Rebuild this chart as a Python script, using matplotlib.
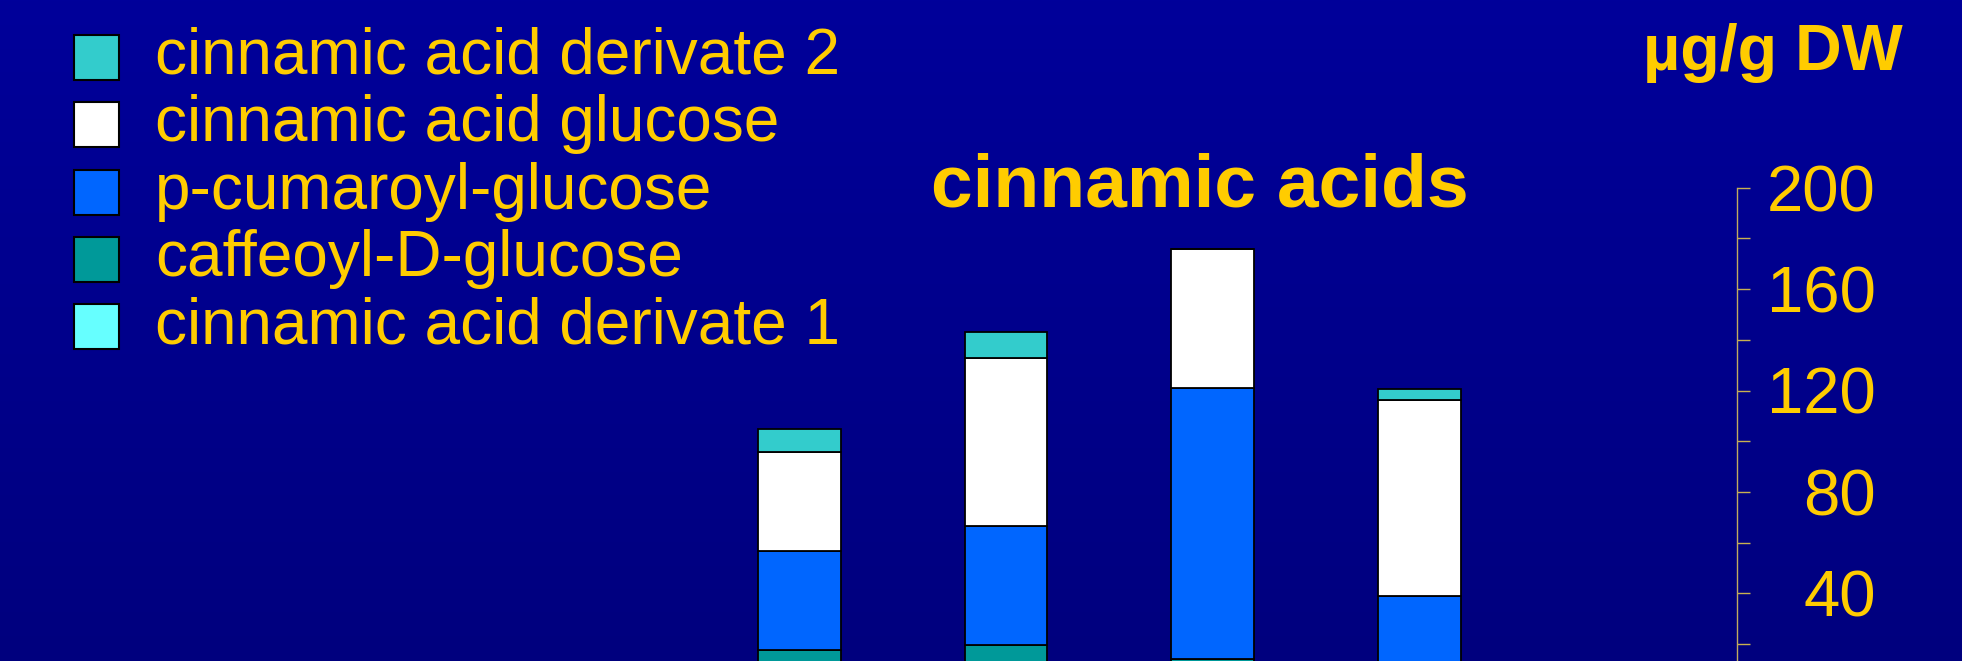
import numpy as np
import matplotlib
matplotlib.use("Agg")
import matplotlib.pyplot as plt
from matplotlib.patches import Rectangle
from matplotlib.ticker import MultipleLocator

# ---- data (µg/g DW), stacked bottom -> top ----
categories = ["1", "2", "3", "4"]
deriv1 = [6.0, 6.0, 4.0, 3.0]          # cinnamic acid derivate 1
caffeoyl = [11.6, 13.6, 10.0, 8.0]     # caffeoyl-D-glucose
pcumaroyl = [39.1, 47.1, 106.9, 28.1]  # p-cumaroyl-glucose
glucose = [38.9, 66.2, 54.8, 77.2]     # cinnamic acid glucose
deriv2 = [9.1, 10.2, 0.0, 4.4]         # cinnamic acid derivate 2

series_names = ["cinnamic acid derivate 1", "caffeoyl-D-glucose",
                "p-cumaroyl-glucose", "cinnamic acid glucose",
                "cinnamic acid derivate 2"]
series_values = [deriv1, caffeoyl, pcumaroyl, glucose, deriv2]
series_colors = ["#66FFFF", "#009999", "#0066FF", "#FFFFFF", "#33CCCC"]

y_ticks = [0, 40, 80, 120, 160, 200]
y_ticklabels = ["", "40", "80", "120", "160", "200"]  # "0" falls outside the picture
title = "cinnamic acids"
unit = "µg/g DW"

YELLOW = "#FFCC00"
W, H = 1962, 661
plt.rcParams["font.family"] = ["Liberation Sans", "DejaVu Sans"]

fig = plt.figure(figsize=(W / 100, H / 100), dpi=100)

# background gradient
bg = fig.add_axes([0, 0, 1, 1], zorder=-10)
grad = np.linspace(0, 1, 256).reshape(-1, 1)
top = np.array([0x00, 0x00, 0x9A]) / 255
bot = np.array([0x00, 0x00, 0x7E]) / 255
img = top[None, None, :] * (1 - grad[:, :, None]) + bot[None, None, :] * grad[:, :, None]
bg.imshow(img, aspect="auto", extent=[0, 1, 0, 1])
bg.axis("off")

# main axes (its bottom lies below the visible figure)
px_left, px_right = 0, 1737.3
px_top, px_zero = 187.7, 694.7
ax = fig.add_axes([px_left / W, (H - px_zero) / H,
                   (px_right - px_left) / W, (px_zero - px_top) / H])
ax.patch.set_alpha(0)

x = np.arange(len(categories))
bottom = np.zeros(len(categories))
for vals, col in zip(series_values, series_colors):
    ax.bar(x, vals, width=0.4, bottom=bottom, color=col,
           edgecolor="black", linewidth=1.3, zorder=3)
    bottom += np.array(vals)

spacing = 206.6
ax.set_xlim(-799.5 / spacing, 3 + (px_right - 1419.4) / spacing)
ax.set_ylim(0, 200)
for s in ("left", "top", "bottom"):
    ax.spines[s].set_visible(False)
ax.spines["right"].set_color("#C0AC60")
ax.spines["right"].set_linewidth(1.0)
ax.set_xticks([])
ax.yaxis.tick_right()
ax.set_yticks(y_ticks)
ax.set_yticklabels(y_ticklabels)
ax.yaxis.set_minor_locator(MultipleLocator(20))
ax.tick_params(axis="y", which="both", direction="out", length=9.1,
               width=1.0, color="#C8B050")
ax.tick_params(axis="y", which="major", labelsize=47, labelcolor=YELLOW, pad=90.5)
for lab in ax.get_yticklabels():
    lab.set_horizontalalignment("right")

# title and unit
fig.text(1200 / W, 1 - 207 / H, title, ha="center", va="baseline",
         fontsize=54, fontweight="bold", color=YELLOW)
fig.text(1643 / W, 1 - 70 / H, unit, ha="left", va="baseline",
         fontsize=46.5, fontweight="bold", color=YELLOW)

# legend (top entry = top of stack)
leg_names = series_names[::-1]
leg_colors = series_colors[::-1]
for i, (name, col) in enumerate(zip(leg_names, leg_colors)):
    ptop = 35 + 67.3 * i
    fig.patches.append(Rectangle((73.5 / W, 1 - (ptop + 45) / H), 45 / W, 45 / H,
                                 transform=fig.transFigure, facecolor=col,
                                 edgecolor="black", linewidth=1.5))
    fig.text(155 / W, 1 - (74 + 67.3 * i) / H, name, ha="left", va="baseline",
             fontsize=46, color=YELLOW)

fig.savefig("out.png", dpi=100)
